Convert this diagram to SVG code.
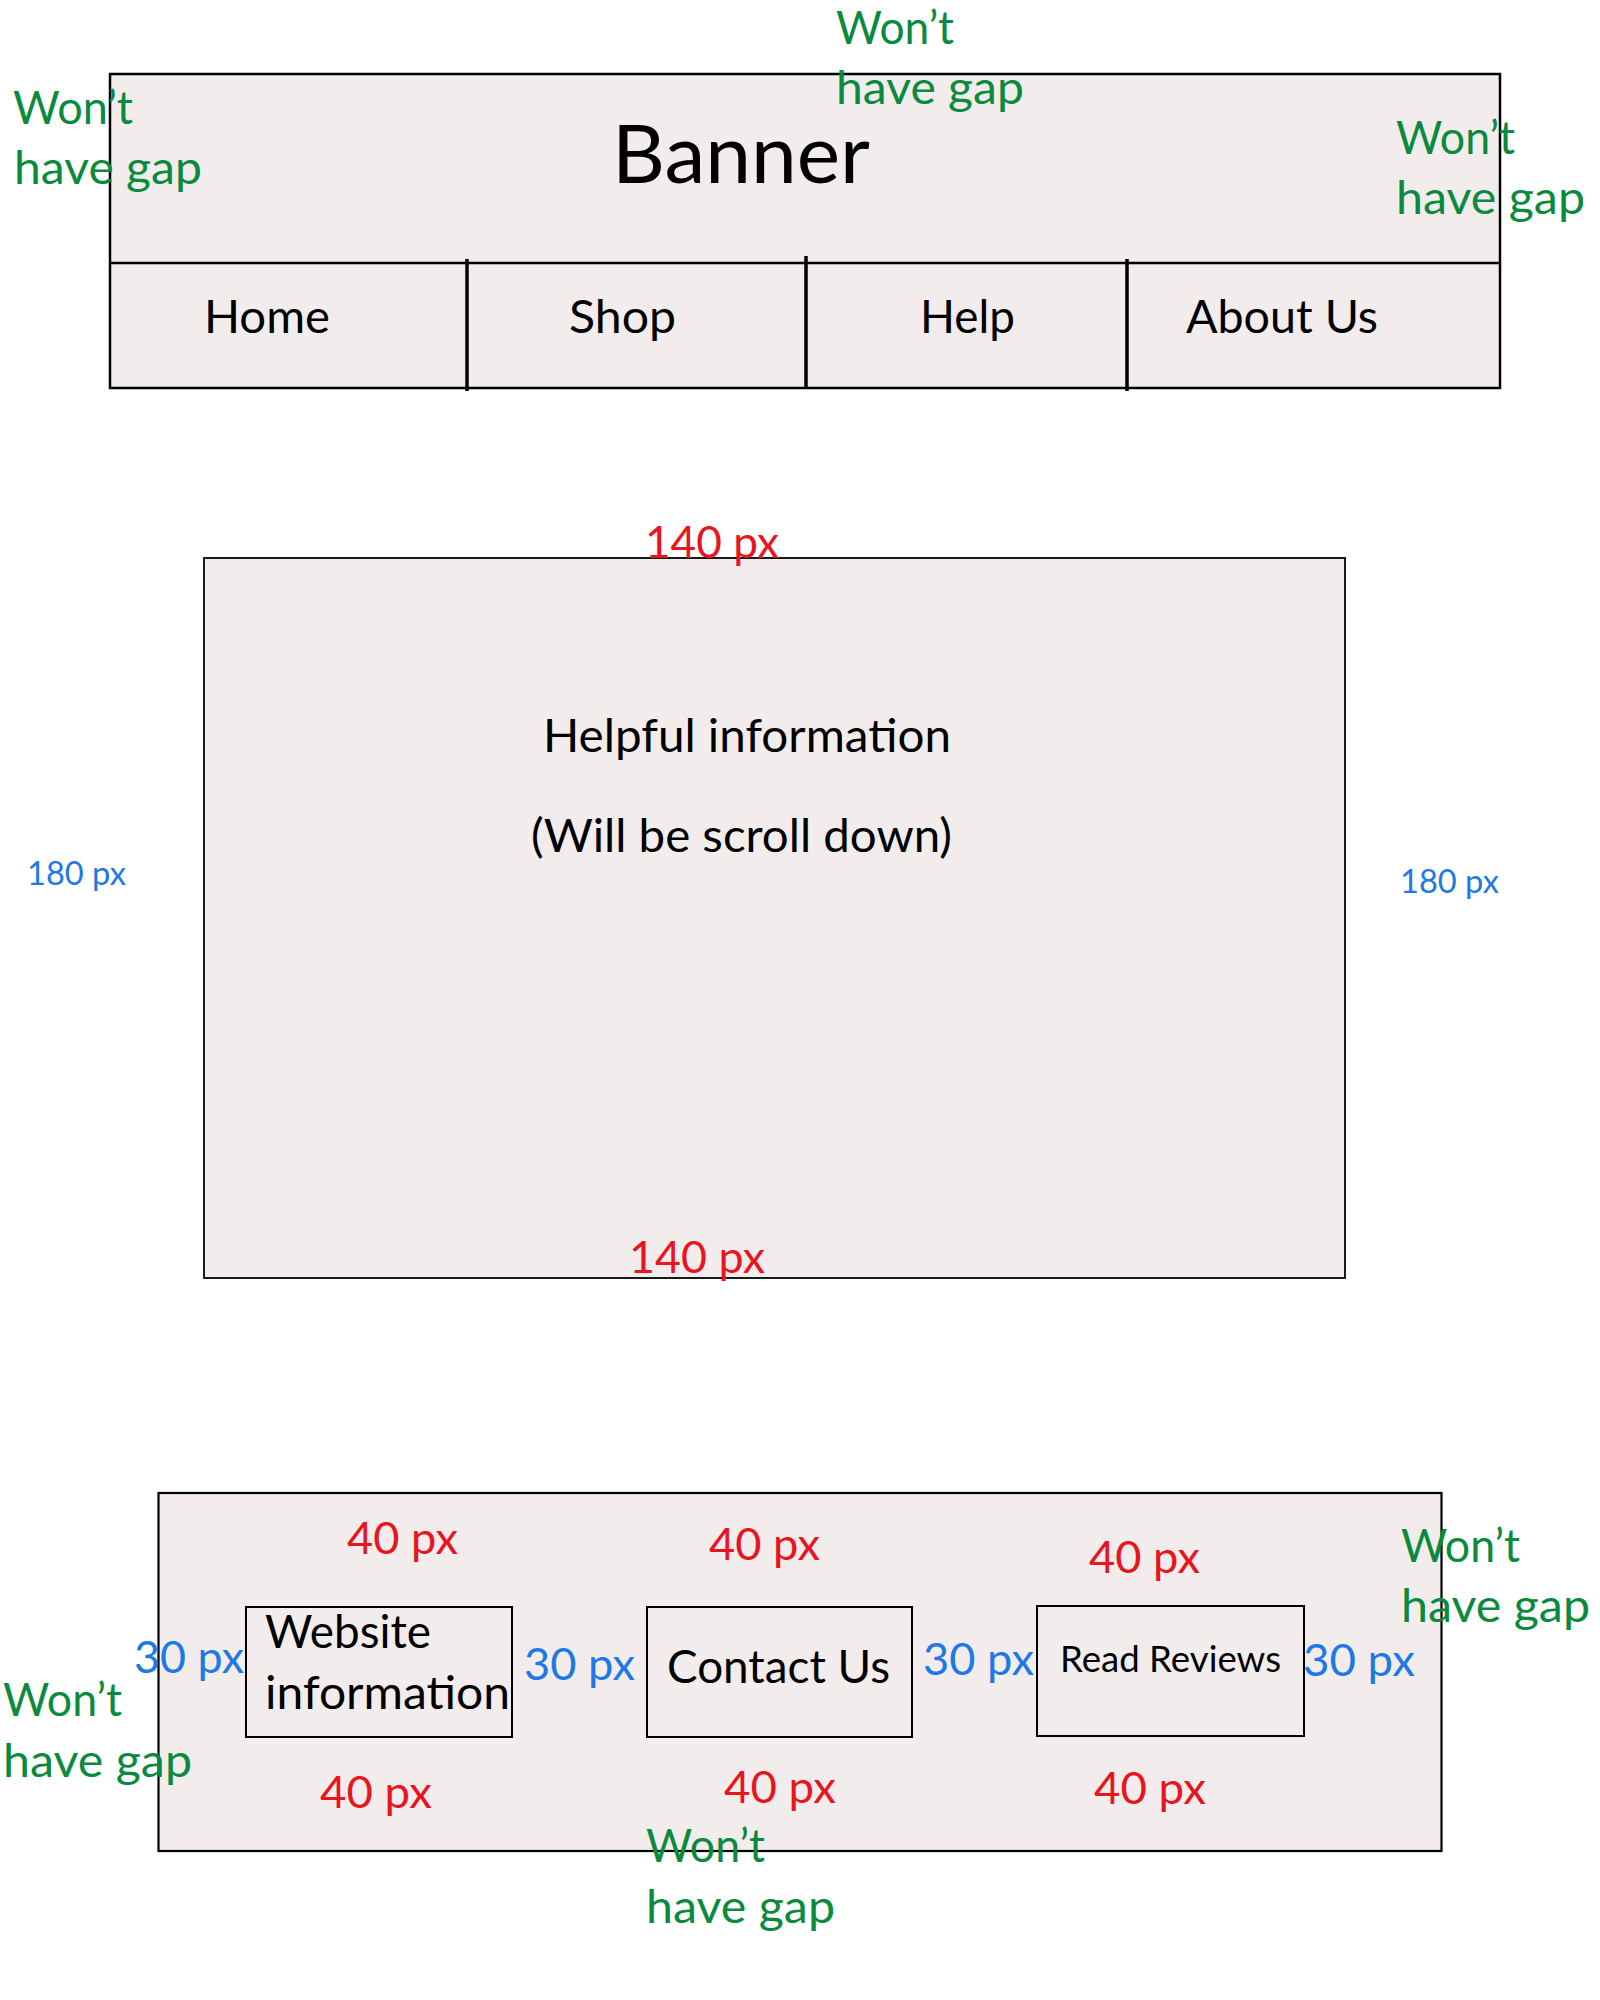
<svg xmlns="http://www.w3.org/2000/svg" width="1600" height="2000" viewBox="0 0 1600 2000">
<style>
text{font-family:Lato,"Open Sans","Liberation Sans",sans-serif;}
.box{fill:#f2edec;stroke:#000;}
.blk{fill:#000;}
.grn{fill:#0b8a3e;font-size:47px;}
.red{fill:#e8141e;font-size:45px;}
.blu{fill:#1e78e6;font-size:45px;}
.nav{font-size:46px;}
</style>
<rect width="1600" height="2000" fill="#fff"/>

<g id="header">
  <rect class="box" x="110" y="74" width="1390" height="314" stroke-width="2.5"/>
  <line x1="110" y1="263" x2="1500" y2="263" stroke="#000" stroke-width="2.5"/>
  <line x1="467" y1="259" x2="467" y2="391" stroke="#000" stroke-width="3.5"/>
  <line x1="806" y1="256" x2="806" y2="388" stroke="#000" stroke-width="3.5"/>
  <line x1="1127" y1="259" x2="1127" y2="391" stroke="#000" stroke-width="3.5"/>
  <text class="blk" x="612" y="183" font-size="82" textLength="258" lengthAdjust="spacingAndGlyphs">Banner</text>
</g>
<g id="nav-home"><text class="blk nav" x="204" y="333" textLength="126" lengthAdjust="spacingAndGlyphs">Home</text></g>
<g id="nav-shop"><text class="blk nav" x="569" y="333" textLength="107" lengthAdjust="spacingAndGlyphs">Shop</text></g>
<g id="nav-help"><text class="blk nav" x="920" y="333" textLength="95" lengthAdjust="spacingAndGlyphs">Help</text></g>
<g id="nav-about"><text class="blk nav" x="1186" y="333" textLength="192" lengthAdjust="spacingAndGlyphs">About Us</text></g>

<g id="header-notes">
  <text class="grn" x="13" y="124" textLength="120" lengthAdjust="spacingAndGlyphs">Won’t</text>
  <text class="grn" x="14" y="184" textLength="188" lengthAdjust="spacingAndGlyphs">have gap</text>
  <text class="grn" x="836" y="44" textLength="118" lengthAdjust="spacingAndGlyphs">Won’t</text>
  <text class="grn" x="836" y="104" textLength="188" lengthAdjust="spacingAndGlyphs">have gap</text>
  <text class="grn" x="1396" y="154" textLength="119" lengthAdjust="spacingAndGlyphs">Won’t</text>
  <text class="grn" x="1396" y="214" textLength="189" lengthAdjust="spacingAndGlyphs">have gap</text>
</g>

<g id="main">
  <rect class="box" x="204" y="558" width="1141" height="720" stroke-width="1.8"/>
  <text class="blk" x="543" y="752" font-size="47" textLength="408" lengthAdjust="spacingAndGlyphs">Helpful information</text>
  <text class="blk" x="531" y="852" font-size="47" textLength="421" lengthAdjust="spacingAndGlyphs">(Will be scroll down)</text>
</g>
<g id="main-notes">
  <text class="red" x="645" y="558" font-size="44" textLength="134" lengthAdjust="spacingAndGlyphs">140 px</text>
  <text class="red" x="629" y="1273" font-size="44" textLength="136" lengthAdjust="spacingAndGlyphs">140 px</text>
  <text class="blu" x="27" y="885" style="font-size:33px" textLength="99" lengthAdjust="spacingAndGlyphs">180 px</text>
  <text class="blu" x="1400" y="893" style="font-size:33px" textLength="99" lengthAdjust="spacingAndGlyphs">180 px</text>
</g>

<g id="footer">
  <rect class="box" x="158.5" y="1493" width="1283" height="358" stroke-width="2.2"/>
</g>
<g id="footer-website">
  <rect class="box" x="246" y="1607" width="266" height="130" stroke-width="2"/>
  <text class="blk" x="265" y="1648" font-size="46" textLength="166" lengthAdjust="spacingAndGlyphs">Website</text>
  <text class="blk" x="265" y="1709" font-size="46" textLength="245" lengthAdjust="spacingAndGlyphs">information</text>
</g>
<g id="footer-contact">
  <rect class="box" x="647" y="1607" width="265" height="130" stroke-width="2"/>
  <text class="blk" x="667" y="1683" font-size="46" textLength="223" lengthAdjust="spacingAndGlyphs">Contact Us</text>
</g>
<g id="footer-reviews">
  <rect class="box" x="1037" y="1606" width="267" height="130" stroke-width="2"/>
  <text class="blk" x="1060" y="1672" font-size="36" textLength="221" lengthAdjust="spacingAndGlyphs">Read Reviews</text>
</g>
<g id="footer-notes">
  <text class="red" x="347" y="1554" textLength="111" lengthAdjust="spacingAndGlyphs">40 px</text>
  <text class="red" x="709" y="1560" textLength="111" lengthAdjust="spacingAndGlyphs">40 px</text>
  <text class="red" x="1089" y="1573" textLength="111" lengthAdjust="spacingAndGlyphs">40 px</text>
  <text class="red" x="320" y="1808" textLength="112" lengthAdjust="spacingAndGlyphs">40 px</text>
  <text class="red" x="724" y="1803" textLength="112" lengthAdjust="spacingAndGlyphs">40 px</text>
  <text class="red" x="1094" y="1804" textLength="112" lengthAdjust="spacingAndGlyphs">40 px</text>
  <text class="blu" x="134" y="1673" textLength="110" lengthAdjust="spacingAndGlyphs">30 px</text>
  <text class="blu" x="524" y="1680" textLength="111" lengthAdjust="spacingAndGlyphs">30 px</text>
  <text class="blu" x="923" y="1675" textLength="111" lengthAdjust="spacingAndGlyphs">30 px</text>
  <text class="blu" x="1303" y="1676" textLength="112" lengthAdjust="spacingAndGlyphs">30 px</text>
  <text class="grn" x="1401" y="1562" textLength="119" lengthAdjust="spacingAndGlyphs">Won’t</text>
  <text class="grn" x="1401" y="1622" textLength="189" lengthAdjust="spacingAndGlyphs">have gap</text>
  <text class="grn" x="3" y="1716" textLength="119" lengthAdjust="spacingAndGlyphs">Won’t</text>
  <text class="grn" x="3" y="1777" textLength="189" lengthAdjust="spacingAndGlyphs">have gap</text>
  <text class="grn" x="646" y="1862" textLength="119" lengthAdjust="spacingAndGlyphs">Won’t</text>
  <text class="grn" x="646" y="1923" textLength="189" lengthAdjust="spacingAndGlyphs">have gap</text>
</g>
</svg>
